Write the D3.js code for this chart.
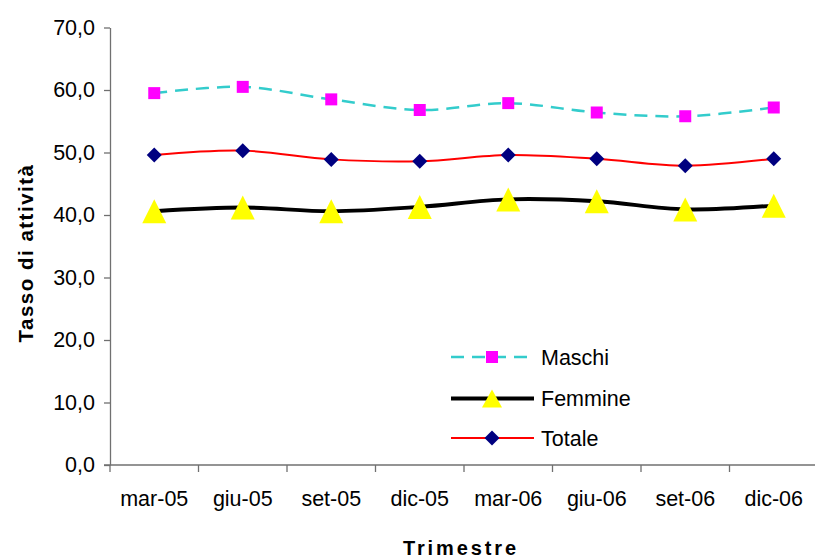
<!DOCTYPE html>
<html>
<head>
<meta charset="utf-8">
<script src="https://cdn.jsdelivr.net/npm/d3@7"></script>
<style>
  body { margin: 0; background: #fff; }
  text { font-family: "Liberation Sans", Arial, sans-serif; fill: #000; }
</style>
</head>
<body>
<div id="chart"></div>
<script>
// data
const trimestri = ["mar-05", "giu-05", "set-05", "dic-05", "mar-06", "giu-06", "set-06", "dic-06"];
const maschi  = [59.5, 60.5, 58.5, 56.8, 57.9, 56.4, 55.8, 57.2];
const femmine = [40.6, 41.2, 40.6, 41.3, 42.5, 42.2, 40.9, 41.5];
const totale  = [49.6, 50.3, 48.9, 48.6, 49.6, 49.0, 47.9, 49.0];
const yTicks  = [0, 10, 20, 30, 40, 50, 60, 70];

const width = 815, height = 559;
const margin = {top: 27.5, left: 110, right: -3, bottom: 94};

const svg = d3.select("#chart").append("svg")
    .attr("width", width)
    .attr("height", height);

// scales
const x = d3.scaleBand()
    .domain(trimestri)
    .range([margin.left, width - margin.right])
    .padding(0);

const y = d3.scaleLinear()
    .domain([0, 70])
    .range([height - margin.bottom, margin.top]);

const cx = d => x(d) + x.bandwidth() / 2;

// y axis
const yAxis = d3.axisLeft(y)
    .tickValues(yTicks)
    .tickSize(6)
    .tickSizeOuter(0)
    .tickPadding(9)
    .tickFormat(d => d.toFixed(1).replace(".", ","));

const gy = svg.append("g")
    .attr("transform", "translate(" + margin.left + ",0)")
    .call(yAxis);
gy.selectAll("text").style("font-size", "21.5px");
gy.selectAll("line, path").attr("stroke", "#707070").attr("stroke-width", 1.3);

// x axis: labels at band centres, ticks on band edges (like Excel)
const xAxis = d3.axisBottom(x)
    .tickSize(0)
    .tickSizeOuter(0)
    .tickPadding(26);

const gx = svg.append("g")
    .attr("transform", "translate(0," + y(0) + ")")
    .call(xAxis);
gx.selectAll("text").style("font-size", "21.5px");
gx.select("path").attr("stroke", "#707070").attr("stroke-width", 1.3)
    .attr("d", "M" + (margin.left - 6) + ",0H" + (width - margin.right));

const edges = trimestri.map(d => x(d)).concat([x.range()[1]]);
gx.selectAll(".edge").data(edges).enter().append("line")
    .attr("class", "edge")
    .attr("x1", d => d).attr("x2", d => d)
    .attr("y1", 0).attr("y2", 7)
    .attr("stroke", "#707070").attr("stroke-width", 1.3);

// axis titles
svg.append("text")
    .attr("transform", "translate(33,253) rotate(-90)")
    .attr("text-anchor", "middle")
    .style("font-size", "20.5px")
    .style("font-weight", "bold")
    .style("letter-spacing", "1.5px")
    .text("Tasso di attività");

svg.append("text")
    .attr("x", 461)
    .attr("y", 555)
    .attr("text-anchor", "middle")
    .style("font-size", "20px")
    .style("font-weight", "bold")
    .style("letter-spacing", "2.9px")
    .text("Trimestre");

// markers
const square = "M-6,-6H6V6H-6Z";
const triangle = "M0,-12L12,12H-12Z";
const diamond = "M0,-7.5L7.5,0L0,7.5L-7.5,0Z";

const series = [
  {name: "Maschi",  values: maschi,  stroke: "#33CCCC", width: 2.5, dash: "13,8", marker: square,   fill: "#FF00FF"},
  {name: "Femmine", values: femmine, stroke: "#000000", width: 4,   dash: null,   marker: triangle, fill: "#FFFF00"},
  {name: "Totale",  values: totale,  stroke: "#FF0000", width: 2,   dash: null,   marker: diamond,  fill: "#000080"}
];

const line = d3.line()
    .curve(d3.curveCardinal.tension(0))
    .x((d, i) => cx(trimestri[i]))
    .y(d => y(d));

series.forEach(s => {
    const g = svg.append("g");
    g.append("path")
        .attr("d", line(s.values))
        .attr("fill", "none")
        .attr("stroke", s.stroke)
        .attr("stroke-width", s.width)
        .attr("stroke-dasharray", s.dash);
    g.selectAll(".mk").data(s.values).enter().append("path")
        .attr("class", "mk")
        .attr("transform", (d, i) => "translate(" + cx(trimestri[i]) + "," + y(d) + ")")
        .attr("d", s.marker)
        .attr("fill", s.fill);
});

// legend
const legend = svg.append("g").attr("transform", "translate(451,357)");
const rows = legend.selectAll("g").data(series).enter().append("g")
    .attr("transform", (d, i) => "translate(0," + [0, 41.5, 81][i] + ")");
rows.append("line")
    .attr("x1", 0).attr("x2", 83)
    .attr("stroke", d => d.stroke)
    .attr("stroke-width", d => d.width)
    .attr("stroke-dasharray", d => d.dash);
rows.append("path")
    .attr("transform", "translate(41,0)")
    .attr("d", d => d.marker === triangle ? "M0,-9L10,9H-10Z" : d.marker)
    .attr("fill", d => d.fill);
rows.append("text")
    .attr("x", 90)
    .attr("y", 7.5)
    .style("font-size", "21.5px")
    .text(d => d.name);
</script>
</body>
</html>
